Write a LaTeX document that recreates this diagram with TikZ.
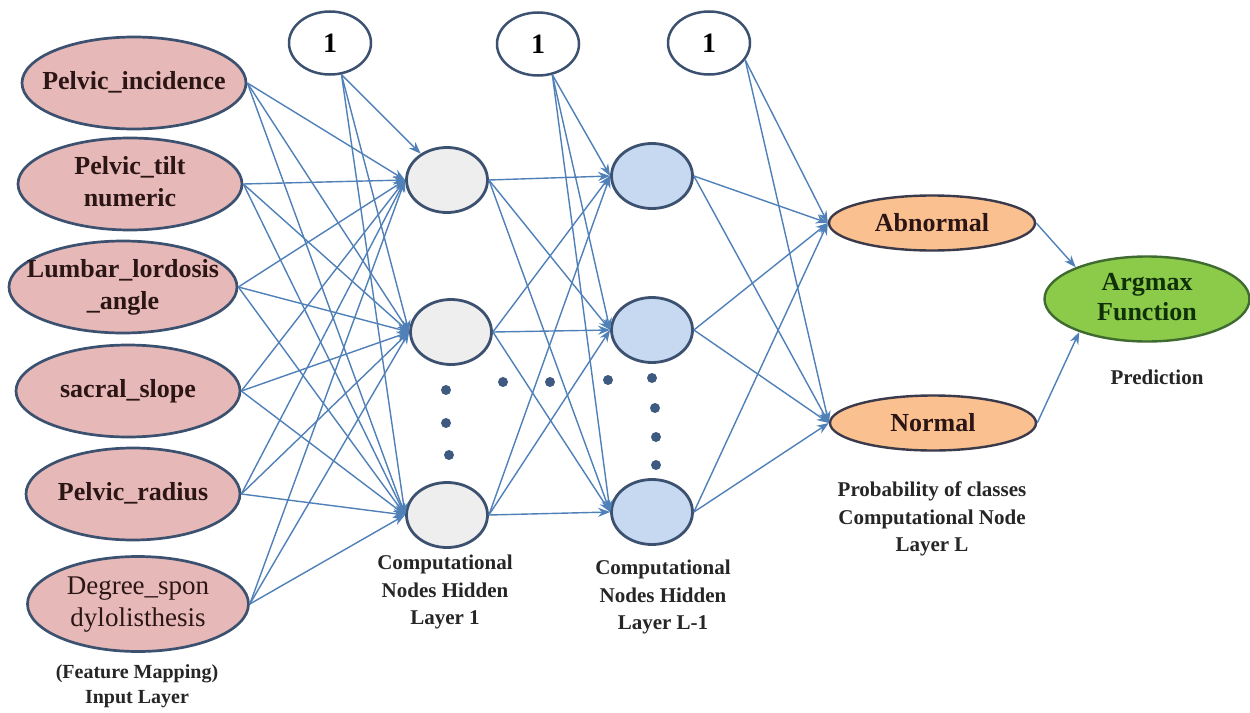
\documentclass[tikz,border=0pt]{standalone}
\usepackage{fontspec}
\setmainfont{Liberation Serif}
\usetikzlibrary{shapes.geometric,arrows.meta}
\definecolor{edgec}{HTML}{4F80B8}
\definecolor{bordc}{HTML}{3C5170}
\definecolor{inpc}{HTML}{E6B9B8}
\definecolor{hac}{HTML}{EFEEEE}
\definecolor{hbc}{HTML}{C6D9F1}
\definecolor{outc}{HTML}{FAC090}
\definecolor{outb}{HTML}{3A3A4A}
\definecolor{argc}{HTML}{8CCB4A}
\definecolor{argb}{HTML}{3F6A30}
\definecolor{argt}{HTML}{10300A}
\definecolor{dotc}{HTML}{3F5A80}
\definecolor{txtc}{HTML}{2B1515}
\newcommand{\zw}[1]{\makebox[0pt]{\begin{tabular}{@{}c@{}}#1\end{tabular}}}
\begin{document}
\begin{tikzpicture}[x=1pt,y=-1pt,
  inp/.style={ellipse, draw=bordc, line width=2.7pt, fill=inpc, inner sep=0pt,
    minimum width=224pt, minimum height=92pt, text=txtc,
    font=\fontsize{26}{32}\selectfont\bfseries},
  bias/.style={ellipse, draw=bordc, line width=2.5pt, fill=white, inner sep=0pt,
    minimum width=82pt, minimum height=63pt, font=\fontsize{28}{30}\selectfont\bfseries},
  hida/.style={ellipse, draw=bordc, line width=2.8pt, fill=hac, inner sep=0pt,
    minimum width=81pt, minimum height=65pt},
  hidb/.style={ellipse, draw=bordc, line width=2.8pt, fill=hbc, inner sep=0pt,
    minimum width=81pt, minimum height=65pt},
  outn/.style={ellipse, draw=outb, line width=2.4pt, fill=outc, inner sep=0pt,
    minimum width=206pt, minimum height=55pt, text=txtc,
    font=\fontsize{26}{30}\selectfont\bfseries},
  argn/.style={ellipse, draw=argb, line width=2.4pt, fill=argc, inner sep=0pt,
    minimum width=205pt, minimum height=85pt, text=argt,
    font=\fontsize{26}{30}\selectfont\bfseries},
  lab/.style={align=center, text=black!85, font=\fontsize{21}{27.5}\selectfont\bfseries},
  conn/.style={draw=edgec, line width=1.4pt, -{Stealth[length=12pt,width=9pt]}},
  dotn/.style={circle, fill=dotc, inner sep=0pt, minimum size=10pt}
]
\useasboundingbox (0,0) rectangle (1250,712);
\fill[white] (0,0) rectangle (1250,712);

% input layer
\node[inp] (in1) at (134,83) {\zw{Pelvic\_incidence}};
\node[inp] (in2) at (130,184) {\zw{Pelvic\_tilt\\numeric}};
\node[inp, minimum width=228pt] (in3) at (123,287) {\zw{Lumbar\_lordosis\\\_angle}};
\node[inp] (in4) at (128,391) {\zw{sacral\_slope}};
\node[inp, minimum width=214pt] (in5) at (133,494) {\zw{Pelvic\_radius}};
\node[inp, minimum width=221pt, minimum height=95pt, font=\fontsize{27}{32}\selectfont] (in6) at (138,604) {\zw{Degree\_spon\\dylolisthesis}};
\node[lab, font=\fontsize{20}{25.5}\selectfont\bfseries] (linp) at (137,686) {(Feature Mapping)\\Input Layer};

% bias nodes
\node[bias] (b1) at (330,43) {1};
\node[bias] (b2) at (538,44) {1};
\node[bias] (b3) at (709,43) {1};

% hidden layer 1
\node[hida] (ha1) at (447,180) {};
\node[hida] (ha2) at (451,332) {};
\node[hida] (ha3) at (447,515) {};
\node[lab] (lha) at (445,592) {Computational\\Nodes Hidden\\Layer 1};

% hidden layer L-1
\node[hidb] (hb1) at (652,176) {};
\node[hidb] (hb2) at (652,330) {};
\node[hidb] (hb3) at (652,512) {};
\node[lab] (lhb) at (663,597) {Computational\\Nodes Hidden\\Layer L-1};

% dots
\node[dotn] (d1) at (446,390) {};
\node[dotn] (d2) at (446,423) {};
\node[dotn] (d3) at (449,455) {};
\node[dotn] (d4) at (503,382) {};
\node[dotn] (d5) at (550,382) {};
\node[dotn] (d6) at (608,380) {};
\node[dotn] (d7) at (652,378) {};
\node[dotn] (d8) at (655,408) {};
\node[dotn] (d9) at (656,437) {};
\node[dotn] (d10) at (656,465) {};

% output layer
\node[outn] (ab) at (932,223) {Abnormal};
\node[outn] (no) at (933,423) {Normal};
\node[lab] (lout) at (932,519) {Probability of classes\\Computational Node\\Layer L};

\node[argn] (arg) at (1147,299) {\zw{Argmax\\Function}};
\node[lab] (lpred) at (1157,377) {Prediction};

% connections
\foreach \i in {1,...,6}
  \foreach \j in {1,2,3}
    \draw[conn] (in\i.east) -- (ha\j.west);
\draw[conn] (b1.-70) -- (ha1);
\draw[conn] (b1.-70) -- (ha2.west);
\draw[conn] (b1.-70) -- (ha3.west);
\foreach \i in {1,2,3}
  \foreach \j in {1,2,3}
    \draw[conn] (ha\i.east) -- (hb\j.west);
\foreach \j in {1,2,3}
  \draw[conn] (b2.-65) -- (hb\j.west);
\foreach \i in {1,2,3}{
  \draw[conn] (hb\i.east) -- (ab.west);
  \draw[conn] (hb\i.east) -- (no.west);
}
\draw[conn] (b3.-25) -- (ab.west);
\draw[conn] (b3.-25) -- (no.west);
\draw[conn] (ab.east) -- (arg.156);
\draw[conn] (no.east) -- (arg.206);
\end{tikzpicture}
\end{document}
